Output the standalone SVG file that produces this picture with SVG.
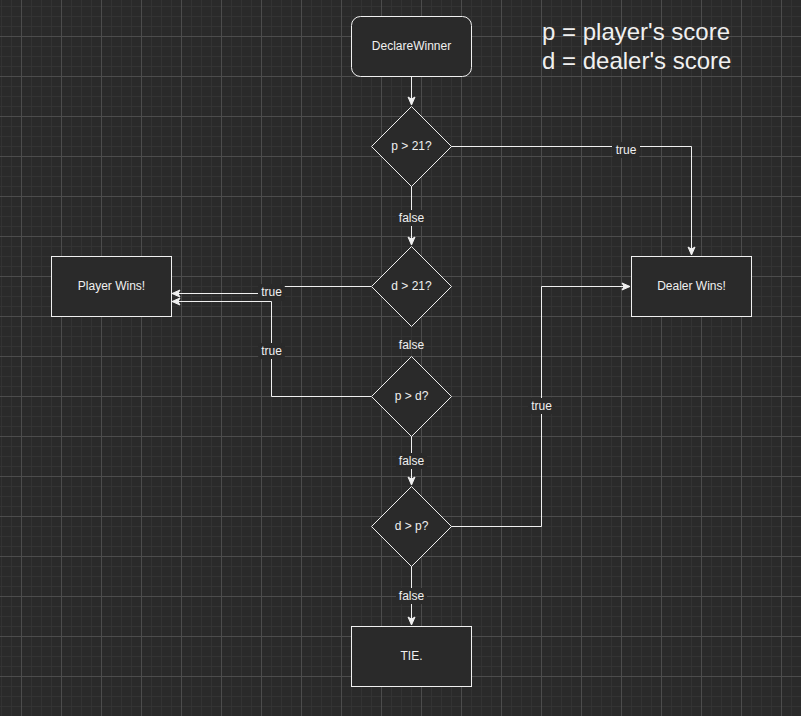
<svg xmlns="http://www.w3.org/2000/svg" width="801" height="716" viewBox="0 0 801 716">
<style>
.node{fill:#2a2a2a;stroke:#f0f0f0;stroke-width:1}
.nt{font-family:"Liberation Sans",Arial,sans-serif;font-size:12px;fill:#f0f0f0;text-anchor:middle}
.edge{fill:none;stroke:#f0f0f0;stroke-width:1}
.lb{fill:#2a2a2a}
.lt{font-family:"Liberation Sans",Arial,sans-serif;font-size:12px;fill:#f0f0f0;text-anchor:middle}
.legend{font-family:"Liberation Sans",Arial,sans-serif;font-size:24px;fill:#f0f0f0}
</style>
<defs>
<pattern id="grid" patternUnits="userSpaceOnUse" x="21" y="36" width="40" height="40">
<rect width="40" height="40" fill="#2a2a2a"/>
<rect x="10" y="0" width="1" height="40" fill="#333333"/>
<rect x="20" y="0" width="1" height="40" fill="#333333"/>
<rect x="30" y="0" width="1" height="40" fill="#333333"/>
<rect x="0" y="10" width="40" height="1" fill="#333333"/>
<rect x="0" y="20" width="40" height="1" fill="#333333"/>
<rect x="0" y="30" width="40" height="1" fill="#333333"/>
<rect x="0" y="0" width="1" height="40" fill="#4c4c4c"/>
<rect x="0" y="0" width="40" height="1" fill="#4c4c4c"/>
</pattern>
<marker id="arr" markerUnits="userSpaceOnUse" markerWidth="10" markerHeight="10" refX="9" refY="4" orient="auto" viewBox="0 0 10 8">
<path d="M1,0.5 L9,4 L1,7.5 L3,4 Z" fill="#f0f0f0" stroke="#f0f0f0" stroke-width="1"/>
</marker>
</defs>
<rect width="801" height="716" fill="url(#grid)"/>

<g id="connectors">
<path class="edge" d="M411.5,76 V105" marker-end="url(#arr)"/>
<path class="edge" d="M451,146.5 H691.5 V255" marker-end="url(#arr)"/>
<path class="edge" d="M411.5,186 V245" marker-end="url(#arr)"/>
<path class="edge" d="M371,286.5 H271.5 V293.5 H172" marker-end="url(#arr)"/>
<path class="edge" d="M371,396.5 H271.5 V301.5 H172" marker-end="url(#arr)"/>
<path class="edge" d="M411.5,436 V485" marker-end="url(#arr)"/>
<path class="edge" d="M451,526.5 H541.5 V286.5 H630" marker-end="url(#arr)"/>
<path class="edge" d="M411.5,566 V625" marker-end="url(#arr)"/>
<g id="labels">
<rect class="lb" x="612" y="142" width="28" height="16" rx="4"/>
<text class="lt" x="626" y="154">true</text>
<rect class="lb" x="396" y="210" width="31" height="16"/>
<text class="lt" x="411.5" y="222">false</text>
<rect class="lb" x="258" y="284" width="27" height="17" rx="4"/>
<text class="lt" x="271.5" y="296">true</text>
<text class="lt" x="411.5" y="349">false</text>
<rect class="lb" x="258" y="343" width="27" height="16" rx="4"/>
<text class="lt" x="271.5" y="355">true</text>
<rect class="lb" x="396" y="453" width="31" height="16"/>
<text class="lt" x="411.5" y="465">false</text>
<rect class="lb" x="528" y="398" width="27" height="16"/>
<text class="lt" x="541.5" y="410">true</text>
<rect class="lb" x="396" y="588" width="31" height="16"/>
<text class="lt" x="411.5" y="600">false</text>
</g>
</g>

<g id="declareWinner">
<rect class="node" x="351.5" y="16.5" width="120" height="60" rx="9"/>
<text class="nt" x="411.5" y="50">DeclareWinner</text>
</g>
<g id="pGt21">
<path class="node" d="M411.5,106.5 L451.5,146.5 L411.5,186.5 L371.5,146.5 Z"/>
<text class="nt" x="411.5" y="150">p &gt; 21?</text>
</g>
<g id="dGt21">
<path class="node" d="M411.5,246.5 L451.5,286.5 L411.5,326.5 L371.5,286.5 Z"/>
<text class="nt" x="411.5" y="290">d &gt; 21?</text>
</g>
<g id="pGtD">
<path class="node" d="M411.5,356.5 L451.5,396.5 L411.5,436.5 L371.5,396.5 Z"/>
<text class="nt" x="411.5" y="400">p &gt; d?</text>
</g>
<g id="dGtP">
<path class="node" d="M411.5,486.5 L451.5,526.5 L411.5,566.5 L371.5,526.5 Z"/>
<text class="nt" x="411.5" y="530">d &gt; p?</text>
</g>
<g id="playerWins">
<rect class="node" x="51.5" y="256.5" width="120" height="60"/>
<text class="nt" x="111.5" y="290">Player Wins!</text>
</g>
<g id="dealerWins">
<rect class="node" x="631.5" y="256.5" width="120" height="60"/>
<text class="nt" x="691.5" y="290">Dealer Wins!</text>
</g>
<g id="tie">
<rect class="node" x="351.5" y="626.5" width="120" height="60"/>
<text class="nt" x="411.5" y="660">TIE.</text>
</g>
<g id="legend">
<text class="legend" x="542" y="40">p = player's score</text>
<text class="legend" x="542" y="69">d = dealer's score</text>
</g>
</svg>
